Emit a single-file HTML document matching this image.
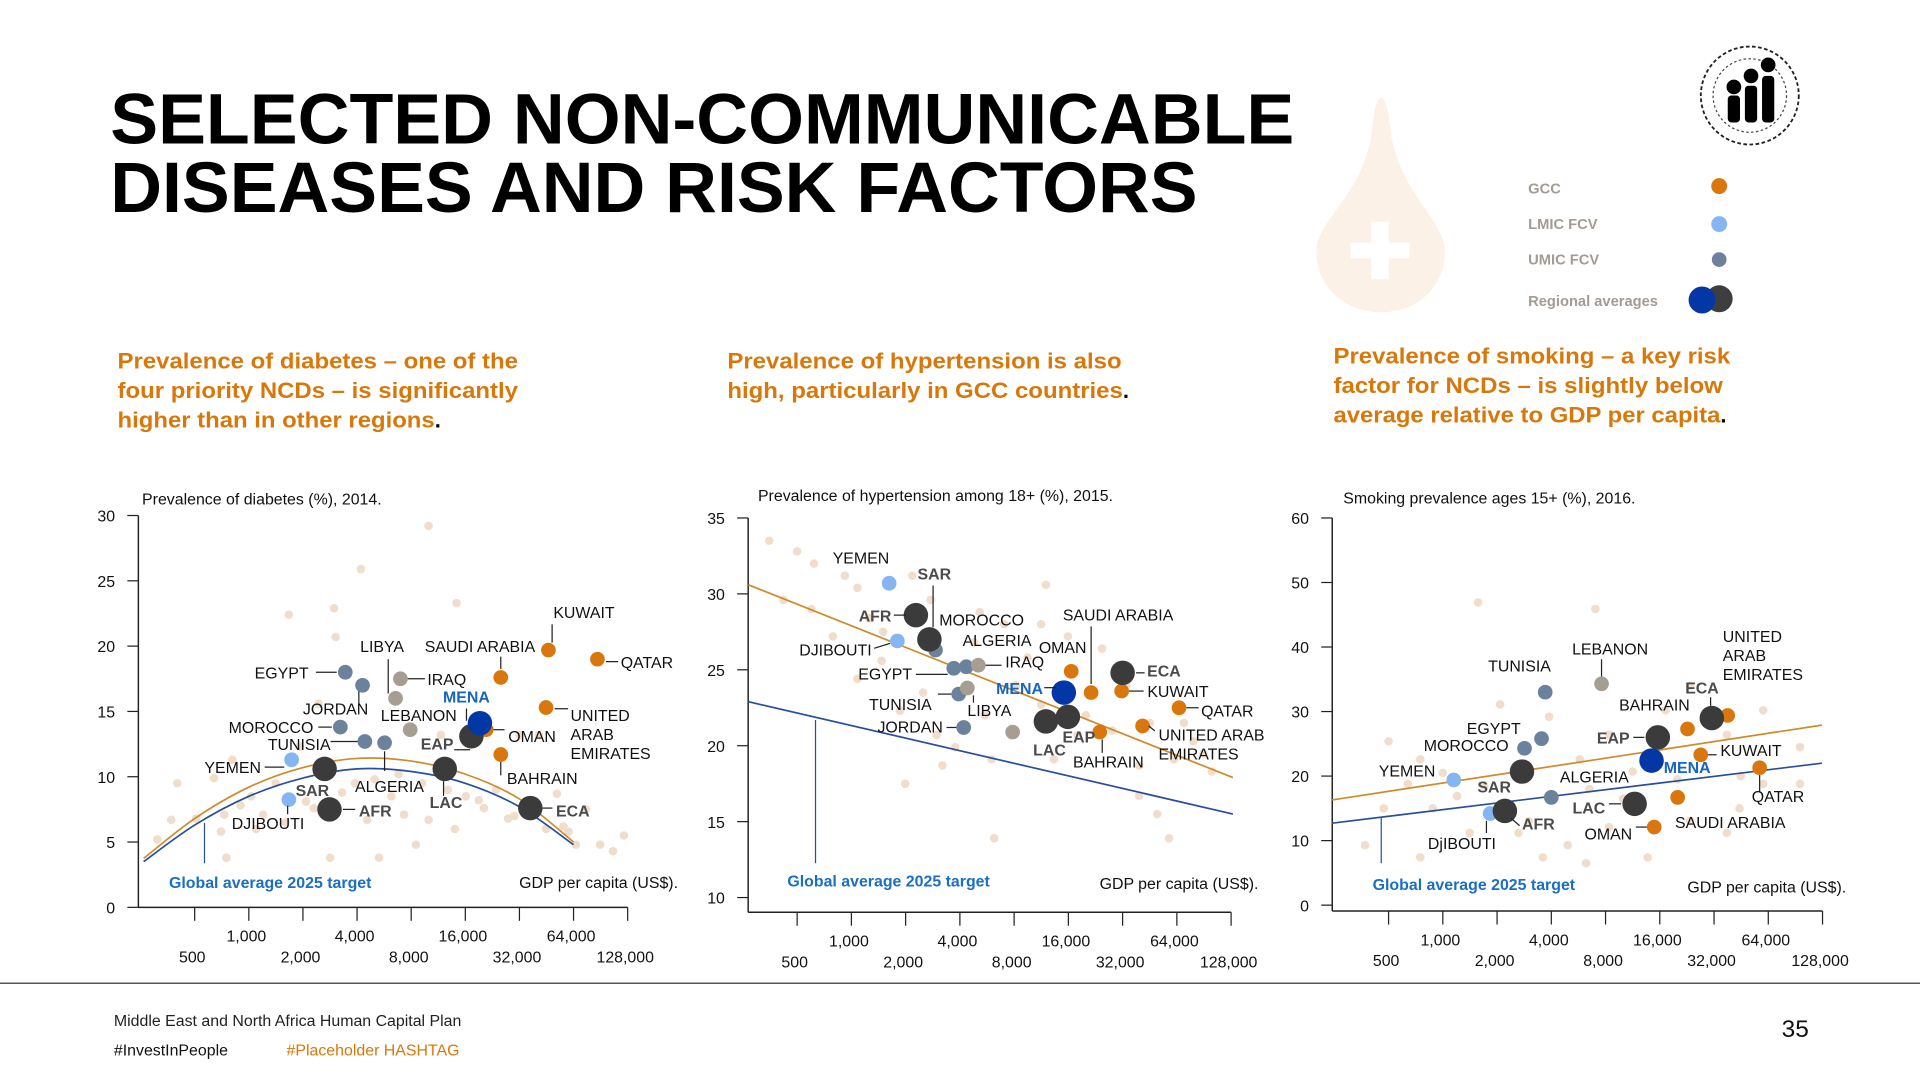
<!DOCTYPE html>
<html><head><meta charset="utf-8"><title>Selected NCDs</title>
<style>
html,body{margin:0;padding:0;background:#fff;}
svg{display:block;font-family:"Liberation Sans",Arial,sans-serif;}
</style></head>
<body>
<svg id="root" width="1920" height="1080" viewBox="0 0 1568 882" xmlns="http://www.w3.org/2000/svg">
  <rect x="0" y="0" width="1568" height="882" fill="#fff"/>
  <g font-weight="bold" fill="#000" font-size="58">
    <text x="90" y="117" textLength="967" lengthAdjust="spacingAndGlyphs">SELECTED NON-COMMUNICABLE</text>
    <text x="90" y="173" textLength="888" lengthAdjust="spacingAndGlyphs">DISEASES AND RISK FACTORS</text>
  </g>
  <g>
    <path d="M1128,80 C1132,80 1134,90 1136,110 C1145,160 1180,180 1180,205 C1180,235 1157,255 1128,255 C1099,255 1075,235 1075,205 C1075,180 1112,160 1120,110 C1122,90 1124,80 1128,80 Z" fill="#fcf1e6"/>
    <rect x="1103" y="198" width="48" height="13" fill="#fff"/>
    <rect x="1120" y="181" width="14" height="47" fill="#fff"/>
  </g>
  <g>
    <circle cx="1429" cy="78" r="40" fill="#fff" stroke="#222" stroke-width="1.5" stroke-dasharray="3 2"/>
    <circle cx="1429" cy="78" r="30" fill="none" stroke="#444" stroke-width="1" stroke-dasharray="2 2"/>
    <rect x="1411" y="78" width="10" height="22" rx="3" fill="#000"/>
    <circle cx="1416" cy="71" r="6" fill="#000"/>
    <rect x="1425" y="70" width="10" height="30" rx="3" fill="#000"/>
    <circle cx="1430" cy="62" r="6" fill="#000"/>
    <rect x="1439" y="62" width="10" height="38" rx="3" fill="#000"/>
    <circle cx="1444" cy="53" r="6" fill="#000"/>
  </g>
  <g font-size="12" font-weight="bold" fill="#a39c94">
    <text x="1248" y="158">GCC</text>
    <circle cx="1404" cy="152" r="6.5" fill="#d9770e"/>
    <text x="1248" y="187">LMIC FCV</text>
    <circle cx="1404" cy="183" r="6.5" fill="#86b6f2"/>
    <text x="1248" y="216">UMIC FCV</text>
    <circle cx="1404" cy="212" r="6" fill="#6c819c"/>
    <text x="1248" y="250">Regional averages</text>
    <circle cx="1404" cy="244" r="11" fill="#3e3e3e"/>
    <circle cx="1390" cy="245" r="11" fill="#0437a6"/>
  </g>
  <g font-size="18" font-weight="bold" fill="#d9780a">
    <text x="96" y="301" textLength="327" lengthAdjust="spacingAndGlyphs">Prevalence of diabetes – one of the</text>
    <text x="96" y="325" textLength="327" lengthAdjust="spacingAndGlyphs">four priority NCDs – is significantly</text>
    <text x="96" y="349"><tspan textLength="259" lengthAdjust="spacingAndGlyphs">higher than in other regions</tspan><tspan fill="#000">.</tspan></text>
    <text x="594" y="301" textLength="322" lengthAdjust="spacingAndGlyphs">Prevalence of hypertension is also</text>
    <text x="594" y="325"><tspan textLength="323" lengthAdjust="spacingAndGlyphs">high, particularly in GCC countries</tspan><tspan fill="#000">.</tspan></text>
    <text x="1089" y="297" textLength="324" lengthAdjust="spacingAndGlyphs">Prevalence of smoking – a key risk</text>
    <text x="1089" y="321" textLength="318" lengthAdjust="spacingAndGlyphs">factor for NCDs – is slightly below</text>
    <text x="1089" y="345"><tspan textLength="316" lengthAdjust="spacingAndGlyphs">average relative to GDP per capita</tspan><tspan fill="#000">.</tspan></text>
  </g>
  <line x1="0" y1="803" x2="1568" y2="803" stroke="#555" stroke-width="1.2"/>
  <g font-size="13">
    <text x="93" y="838" fill="#222">Middle East and North Africa Human Capital Plan</text>
    <text x="93" y="862" fill="#111">#InvestInPeople</text>
    <text x="234" y="862" fill="#d9780a">#Placeholder HASHTAG</text>
    <text x="1455" y="847" font-size="20" fill="#111">35</text>
  </g>
  <g id="charts"></g>
</svg>
<script>
// ---------- Chart 1: Diabetes ----------
const c1Names = ["EGYPT","JORDAN","MOROCCO","TUNISIA","ALGERIA","LIBYA","IRAQ","LEBANON","YEMEN","DJIBOUTI","SAR","AFR","LAC","EAP","ECA","MENA","SAUDI ARABIA","KUWAIT","QATAR","UNITED ARAB EMIRATES","OMAN","BAHRAIN"];
const c1Types = ["umic","umic","umic","umic","umic","other","other","other","lmic","lmic","region","region","region","region","region","mena","gcc","gcc","gcc","gcc","gcc","gcc"];
const c1Gdp = [3440,4290,3230,4420,5690,6550,6970,7900,1730,1670,2640,2810,12300,17300,36800,19300,25200,46400,86900,45000,20900,25200];
const c1Val = [18.0,17.0,13.8,12.7,12.6,16.0,17.5,13.6,11.3,8.25,10.6,7.5,10.6,13.1,7.6,14.1,17.6,19.7,19.0,15.3,13.6,11.7];
const c1BgGdp = [10000,1670,2980,4200,3040,14300,730,510,370,310,750,640,810,1030,1200,1410,2080,3900,4550,6200,7300,9200,10000,8500,16100,20300,23700,27700,51700,56200,66000,90000,122000,106000,41000,32000,11700,2440,1920,5300,2830,400,900,1600,2300,3300,5000,6800,12800,19000,30000,45000,60000,75000,14000,700,1100];
const c1BgVal = [29.2,22.4,22.9,25.9,20.7,23.3,7.1,6.8,6.7,5.2,3.8,9.9,11.3,8.5,7.1,9.5,8.1,9.5,6.7,8.5,7.1,9.5,6.7,4.8,8.5,7.6,9.0,6.8,8.7,6.2,4.8,4.8,5.5,4.3,13.2,13.2,13.2,15.6,12.3,3.8,3.8,9.5,7.8,6.5,7.6,8.8,9.8,10.2,9.0,8.2,7.0,6.0,5.8,7.5,6.0,5.8,6.0];
const c1TrendGdp = [260,500,1000,2000,4000,8000,16000,32000,64000];
const c1TrendOrange = [3.75,6.8,9.2,10.7,11.4,11.2,10.2,8.3,5.0];
const c1TrendBlue = [3.5,6.3,8.5,9.9,10.6,10.4,9.5,7.7,4.8];
const c1YTicks = [0,5,10,15,20,25,30];

// ---------- Chart 2: Hypertension ----------
const c2Names = ["YEMEN","SAR","AFR","DJIBOUTI","MOROCCO","ALGERIA","EGYPT","IRAQ","TUNISIA","LIBYA","JORDAN","LEBANON","MENA","LAC","EAP","ECA","SAUDI ARABIA","OMAN","KUWAIT","QATAR","UNITED ARAB EMIRATES","BAHRAIN"];
const c2Types = ["lmic","region","region","lmic","umic","umic","umic","other","umic","other","umic","other","mena","region","region","region","gcc","gcc","gcc","gcc","gcc","gcc"];
const c2Gdp = [1620,2710,2280,1800,2930,4340,3700,5060,3940,4400,4200,7850,15100,12000,15900,32000,21400,16600,31600,65800,41300,23900];
const c2Val = [30.7,27.0,28.6,26.9,26.3,25.2,25.1,25.3,23.4,23.8,21.2,20.9,23.5,21.6,21.9,24.8,23.5,24.9,23.6,22.5,21.3,20.9];
const c2BgGdp = [350,500,620,920,420,1080,1250,790,1470,2180,2750,5150,7050,12000,11300,15900,8200,11300,24600,33500,45300,61700,79000,100000,39500,49800,57900,39500,18000,13300,6000,3200,2970,3770,6200,1860,1080,1990,600,1500,4800,9500,20000,28000,70000,90000,5500,2500];
const c2BgVal = [33.5,32.8,32.0,31.2,29.6,30.4,28.4,27.2,25.6,31.2,29.6,28.8,28.0,30.6,28.0,27.2,24.0,22.7,26.4,24.0,21.5,19.1,20.3,18.3,16.7,15.5,13.9,18.7,20.7,19.1,19.1,18.7,20.7,19.9,13.9,22.3,24.4,17.5,29.0,27.5,26.8,25.8,22.0,21.0,21.5,19.5,22.0,23.5];
const c2TrendGdp = [268,131000];
const c2TrendOrange = [30.6,17.9];
const c2TrendBlue = [22.9,15.5];
const c2YTicks = [10,15,20,25,30,35];

// ---------- Chart 3: Smoking ----------
const c3Names = ["TUNISIA","LEBANON","EGYPT","MOROCCO","YEMEN","SAR","AFR","DjIBOUTI","ALGERIA","LAC","EAP","MENA","ECA","UNITED ARAB EMIRATES","BAHRAIN","KUWAIT","QATAR","SAUDI ARABIA","OMAN"];
const c3Types = ["umic","other","umic","umic","lmic","region","region","lmic","umic","region","region","mena","region","gcc","gcc","gcc","gcc","gcc","gcc"];
const c3Gdp = [3700,7600,3530,2840,1150,2750,2210,1830,4000,11600,15600,14400,31100,38100,22800,27000,57300,20100,14900];
const c3Val = [33.0,34.3,25.8,24.3,19.4,20.7,14.6,14.2,16.7,15.7,26.0,22.4,29.0,29.4,27.3,23.3,21.3,16.7,12.1];
const c3BgGdp = [1570,7020,2080,3890,5750,8370,11300,17200,23600,37700,60000,96000,96000,500,640,880,370,750,1410,2630,4930,6230,8370,13700,23600,37700,60000,44300,750,470,3590,1200,1000,1700,3000,6500,10000,20000,45000];
const c3BgVal = [46.9,45.9,31.1,29.2,22.6,26.4,20.7,30.2,34.0,26.4,30.2,24.5,18.8,25.4,18.8,15.0,9.3,7.4,11.2,11.2,9.3,6.5,12.1,7.4,13.1,11.2,18.8,15.0,22.6,15.0,7.4,16.9,20.5,18.5,13.0,18.0,16.5,19.5,20.0];
const c3TrendGdp = [243,127000];
const c3TrendOrange = [16.3,27.9];
const c3TrendBlue = [12.7,22.0];
const c3YTicks = [0,10,20,30,40,50,60];

const xTickValues = [500,1000,2000,4000,8000,16000,32000,64000,128000];
const xTickLabels = ["500","1,000","2,000","4,000","8,000","16,000","32,000","64,000","128,000"];

// label annotations (pixel offsets relative to point; not data)
const c1Ann = {
 "EGYPT":[-30,5,"end",[-24,0,-7,0]], "JORDAN":[-22,24,"middle",[-3,5,-3,16]], "MOROCCO":[-22,5,"end",[-18,0,-7,0]],
 "TUNISIA":[-28,7,"end",[-28,0,-6,0]], "ALGERIA":[4,40,"middle",[0,7,0,23]], "LIBYA":[-11,-38,"middle",[-6,-32,-6,-4]],
 "IRAQ":[22,5,"start",[6,0,20,0]], "LEBANON":[7,-7,"middle",null], "YEMEN":[-25,11,"end",[-22,6,-6,6]],
 "DJIBOUTI":[-17,24,"middle",[-1,5,-1,12]], "SAR":[-10,22,"middle",null], "AFR":[24,6,"start",[11,0,21,0]],
 "LAC":[1,32,"middle",[-1,10,-1,22]], "EAP":[-28,11,"middle",[-14,11,-1,11]], "ECA":[21,7,"start",[10,0,18,0]],
 "MENA":[-11,-17,"middle",[-11,-12,-11,-2]], "SAUDI ARABIA":[-17,-21,"middle",[0,-17,0,-7]], "KUWAIT":[29,-26,"middle",[3,-21,3,-6]],
 "QATAR":[19,7,"start",[7,2,17,2]], "UNITED ARAB EMIRATES":[20,11,"start",[7,1,18,1]], "OMAN":[18,10,"start",[6,0,15,0]],
 "BAHRAIN":[5,24,"start",[0,6,0,17]]
};
const c2Ann = {
 "YEMEN":[-23,-16,"middle",null], "SAR":[4,-49,"middle",[3,-44,3,-10]], "AFR":[-20,5,"end",[-18,0,-8,0]],
 "DJIBOUTI":[-21,12,"end",[-19,6,-6,2]], "MOROCCO":[3,-20,"start",null], "ALGERIA":[-3,-17,"start",null],
 "EGYPT":[-34,9,"end",[-31,5,-5,5]], "IRAQ":[22,2,"start",[6,0,19,0]], "TUNISIA":[-22,13,"end",[-17,0,-6,0]],
 "LIBYA":[18,23,"middle",[5,6,5,12]], "JORDAN":[-17,4,"end",[-14,0,-6,0]], "LEBANON":null,
 "MENA":[-17,1,"end",[-16,-4,-6,-4]], "LAC":[3,28,"middle",null], "EAP":[9,21,"middle",null],
 "ECA":[20,3,"start",[11,0,18,0]], "SAUDI ARABIA":[22,-59,"middle",[0,-54,0,-7]], "OMAN":[-7,-15,"middle",null],
 "KUWAIT":[21,5,"start",[6,0,18,0]], "QATAR":[18,7,"start",[6,0,16,0]], "UNITED ARAB EMIRATES":[13,12,"start2",[5,0,10,4]],
 "BAHRAIN":[7,29,"middle",[2,6,2,17]]
};
const c3Ann = {
 "TUNISIA":[-21,-17,"middle",null], "LEBANON":[7,-24,"middle",[0,-20,0,-6]], "EGYPT":[-17,-4,"end",null],
 "MOROCCO":[-13,2,"end",null], "YEMEN":[-15,-3,"end",null], "SAR":[-9,17,"end",null], "AFR":[14,15,"start",[5,6,12,12]],
 "DjIBOUTI":[-23,29,"middle",[-3,6,-3,16]], "ALGERIA":[7,-12,"start",null], "LAC":[-24,8,"end",[-21,0,-11,0]],
 "EAP":[-23,5,"end",[-20,0,-11,0]], "MENA":[10,10,"start",null], "ECA":[-8,-20,"middle",[-1,-17,-1,-10]],
 "UNITED ARAB EMIRATES":[-4,-60,"start3",null], "BAHRAIN":[-27,-15,"middle",null], "KUWAIT":[16,1,"start",[6,0,13,0]],
 "QATAR":[15,28,"middle",[0,6,0,20]], "SAUDI ARABIA":[43,25,"middle",null], "OMAN":[-18,10,"end",[-15,0,-6,0]]
};

const NS = "http://www.w3.org/2000/svg";
const COLORS = {gcc:"#d9770e", lmic:"#86b6f2", umic:"#6c819c", other:"#a69e92", region:"#3b3b3b", mena:"#0437a6"};
const RADII = {gcc:6, lmic:6, umic:6, other:6, region:10, mena:10};

function mk(tag, attrs, parent){
  const e = document.createElementNS(NS, tag);
  for (const k in attrs) e.setAttribute(k, attrs[k]);
  parent.appendChild(e);
  return e;
}

function drawChart(id, L, names, types, gdp, vals, bgGdp, bgVal, tGdp, tOr, tBl, yTicks, ann){
  const root = document.getElementById("charts");
  const g = mk("g", {}, root);
  
  
  const xs = v => L.x500 + Math.log2(v/500) * L.step;
  const ys = v => L.yTop + (L.yMax - v) * L.ppu;

  const title = mk("text", {x:L.titleX, y:L.titleY, "font-size":13, fill:"#111"}, g);
  title.textContent = L.title;
  
  

  for (let i=0;i<bgGdp.length;i++){
    const c = mk("circle", {cx:xs(bgGdp[i]), cy:ys(bgVal[i]), r:3.5, fill:"#f0ddcb"}, g);
    
    
  }
  const ya = mk("line", {x1:L.axisX, y1:L.yTop, x2:L.axisX, y2:L.xAxisY, stroke:"#222", "stroke-width":1.2}, g);
  
  
  const xa = mk("line", {x1:L.axisX, y1:L.xAxisY, x2:xs(128000), y2:L.xAxisY, stroke:"#222", "stroke-width":1.2}, g);
  
  
  for (const t of yTicks){
    const y = ys(t);
    const tk = mk("line", {x1:L.axisX-9, y1:y, x2:L.axisX, y2:y, stroke:"#222", "stroke-width":1}, g);
    
    
    const tl = mk("text", {x:L.axisX-19, y:y+5, "font-size":13, fill:"#111", "text-anchor":"end"}, g);
    tl.textContent = t;
    
    
  }
  for (let i=0;i<xTickValues.length;i++){
    const x = xs(xTickValues[i]);
    const tk = mk("line", {x1:x, y1:L.xAxisY, x2:x, y2:L.xAxisY+11, stroke:"#222", "stroke-width":1}, g);
    
    
    const tl = mk("text", {x:x-2, y:(i%2===1)?L.xAxisY+28:L.xAxisY+45, "font-size":13, fill:"#111", "text-anchor":"middle"}, g);
    tl.textContent = xTickLabels[i];
    
    
  }
  const curve = (arr) => {
    let p = tGdp.map((v,i)=>[xs(v), ys(arr[i])]);
    let d = "M"+p[0][0]+","+p[0][1];
    if (p.length < 3){ for (let i=1;i<p.length;i++) d += " L"+p[i][0]+","+p[i][1]; return d; }
    for (let i=0;i<p.length-1;i++){
      const p0=p[Math.max(0,i-1)], p1=p[i], p2=p[i+1], p3=p[Math.min(p.length-1,i+2)];
      const c1x=p1[0]+(p2[0]-p0[0])/6, c1y=p1[1]+(p2[1]-p0[1])/6;
      const c2x=p2[0]-(p3[0]-p1[0])/6, c2y=p2[1]-(p3[1]-p1[1])/6;
      d += " C"+c1x+","+c1y+" "+c2x+","+c2y+" "+p2[0]+","+p2[1];
    }
    return d;
  };
  const to = mk("path", {d:curve(tOr), fill:"none", stroke:"#d18a2a", "stroke-width":1.4}, g);
  
  
  const tb = mk("path", {d:curve(tBl), fill:"none", stroke:"#284f9c", "stroke-width":1.4}, g);
  
  
  const vl = mk("line", {x1:L.vlineX, y1:L.vlineY1, x2:L.vlineX, y2:L.vlineY2, stroke:"#284f9c", "stroke-width":1}, g);
  
  
  const gl = mk("text", {x:L.glX, y:L.glY, "font-size":13, "font-weight":"bold", fill:"#1a6fc2"}, g);
  gl.textContent = "Global average 2025 target";
  
  
  const xt = mk("text", {x:L.gdpX, y:L.gdpY, "font-size":13, fill:"#111"}, g);
  xt.textContent = "GDP per capita (US$).";
  
  

  const order = names.map((n,i)=>i).sort((a,b)=>RADII[types[a]]-RADII[types[b]]);
  for (const i of order){
    const px = xs(gdp[i]), py = ys(vals[i]);
    const c = mk("circle", {cx:px, cy:py, r:RADII[types[i]], fill:COLORS[types[i]]}, g);
    
    
  }
  for (let i=0;i<names.length;i++){
    const a = ann[names[i]];
    if (!a) continue;
    const px = xs(gdp[i]), py = ys(vals[i]);
    if (a[3]){
      const ln = mk("line", {x1:px+a[3][0], y1:py+a[3][1], x2:px+a[3][2], y2:py+a[3][3], stroke:"#222", "stroke-width":1}, g);
      
      
    }
    const t = types[i];
    const fill = t==="mena" ? "#1565c0" : (t==="region" ? "#4a4a4a" : "#111");
    const bold = (t==="mena"||t==="region") ? "bold" : "normal";
    let anchor = a[2], lines = [names[i]];
    if (names[i]==="UNITED ARAB EMIRATES"){
      if (anchor==="start2"){ lines=["UNITED ARAB","EMIRATES"]; }
      else { lines=["UNITED","ARAB","EMIRATES"]; }
      anchor="start";
    }
    const tx = mk("text", {x:px+a[0], y:py+a[1], "font-size":13, fill:fill, "font-weight":bold, "text-anchor":anchor}, g);
    
    
    lines.forEach((s,k)=>{
      const ts = mk("tspan", {x:px+a[0], dy:k===0?0:15.5}, tx);
      ts.textContent = s;
    });
  }
}

drawChart("diabetes-chart",
 {x500:159, step:44.2, yTop:421, yMax:30, ppu:320/30, axisX:113, xAxisY:741, title:"Prevalence of diabetes (%), 2014.", titleX:116, titleY:412,
  vlineX:167, vlineY1:672, vlineY2:705, glX:138, glY:725, gdpX:424, gdpY:725},
 c1Names, c1Types, c1Gdp, c1Val, c1BgGdp, c1BgVal, c1TrendGdp, c1TrendOrange, c1TrendBlue, c1YTicks, c1Ann);

drawChart("hypertension-chart",
 {x500:651, step:44.3, yTop:423, yMax:35, ppu:12.4, axisX:611, xAxisY:745, title:"Prevalence of hypertension among 18+ (%), 2015.", titleX:619, titleY:409,
  vlineX:666, vlineY1:588, vlineY2:705, glX:643, glY:724, gdpX:898, gdpY:726},
 c2Names, c2Types, c2Gdp, c2Val, c2BgGdp, c2BgVal, c2TrendGdp, c2TrendOrange, c2TrendBlue, c2YTicks, c2Ann);

drawChart("smoking-chart",
 {x500:1134, step:44.3, yTop:423, yMax:60, ppu:5.27, axisX:1088, xAxisY:744, title:"Smoking prevalence ages 15+ (%), 2016.", titleX:1097, titleY:411,
  vlineX:1128, vlineY1:667, vlineY2:705, glX:1121, glY:727, gdpX:1378, gdpY:729},
 c3Names, c3Types, c3Gdp, c3Val, c3BgGdp, c3BgVal, c3TrendGdp, c3TrendOrange, c3TrendBlue, c3YTicks, c3Ann);
</script>
</body></html>
